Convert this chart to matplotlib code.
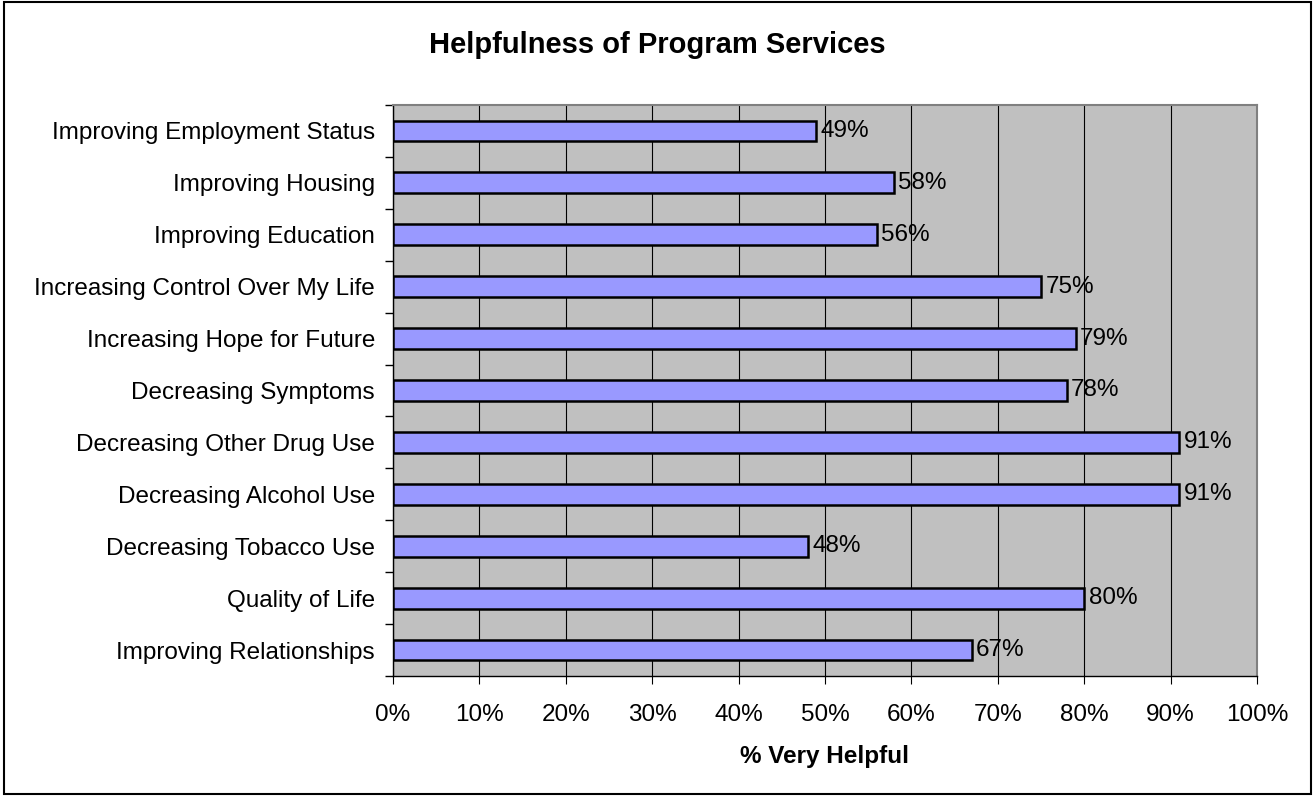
import matplotlib
matplotlib.use("Agg")
import matplotlib.pyplot as plt
from matplotlib.patches import Rectangle
from matplotlib.ticker import FuncFormatter

plt.rcParams['font.family'] = ['Liberation Sans', 'DejaVu Sans']

# categories top to bottom, values in percent
categories = [
    "Improving Employment Status",
    "Improving Housing",
    "Improving Education",
    "Increasing Control Over My Life",
    "Increasing Hope for Future",
    "Decreasing Symptoms",
    "Decreasing Other Drug Use",
    "Decreasing Alcohol Use",
    "Decreasing Tobacco Use",
    "Quality of Life",
    "Improving Relationships",
]
values = [49, 58, 56, 75, 79, 78, 91, 91, 48, 80, 67]
xticks = list(range(0, 101, 10))

fig = plt.figure(figsize=(13.15, 7.96), dpi=100)
ax = fig.add_axes([393/1315, 1 - 676/796, (1257 - 393)/1315, (676 - 105)/796])

# outer chart frame
fig.patches.append(Rectangle((0.003, 0.003), 0.994, 0.995, transform=fig.transFigure,
                             fill=False, edgecolor='black', linewidth=1.5))

ax.set_facecolor('#C0C0C0')
pos = list(range(len(categories)))
ax.barh(pos, values, height=0.4, color='#9999FF', edgecolor='black', linewidth=1.8, zorder=3)

for p, v in zip(pos, values):
    ax.text(v + 0.5, p, f"{v}%", va='center', ha='left', fontsize=17.5, zorder=4)

ax.set_xlim(0, 100)
ax.set_ylim(len(categories) - 0.5, -0.5)
ax.set_xticks(xticks)
ax.xaxis.set_major_formatter(FuncFormatter(lambda x, _: f"{int(x)}%"))
ax.grid(axis='x', color='black', linewidth=0.8, zorder=1)

ax.set_yticks(pos)
ax.set_yticklabels(categories, fontsize=17.5)
ax.set_yticks([p + 0.5 for p in [-1] + pos], minor=True)
ax.tick_params(axis='y', which='major', length=0, pad=13)
ax.tick_params(axis='y', which='minor', length=6, width=1, direction='out')
ax.tick_params(axis='x', labelsize=17.5, length=6, direction='out', pad=14)

for s in ['top', 'right']:
    ax.spines[s].set_color('#808080')
    ax.spines[s].set_linewidth(1.5)
for s in ['left', 'bottom']:
    ax.spines[s].set_color('black')
    ax.spines[s].set_linewidth(1)

ax.set_xlabel("% Very Helpful", fontsize=17.5, fontweight='bold', labelpad=14)
fig.text(0.5, 1 - 45/796, "Helpfulness of Program Services", ha='center', va='center',
         fontsize=21, fontweight='bold')

fig.savefig("out.png", dpi=100)
